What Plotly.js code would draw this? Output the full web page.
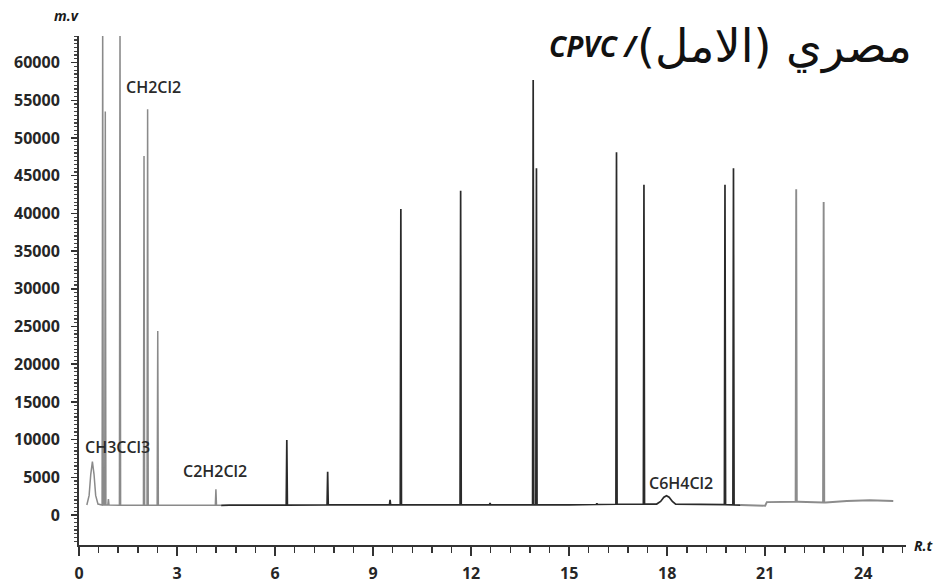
<!DOCTYPE html>
<html><head><meta charset="utf-8">
<script src="https://cdn.plot.ly/plotly-3.0.1.min.js"></script>
<style>html,body{margin:0;padding:0;background:#fff;} #chart{width:941px;height:587px;}</style>
</head><body><div id="chart"></div>
<script>
// ---- data ----
const baselineRT  = [0, 0.60, 1.50, 4.30, 4.60, 9.00, 12.00, 15.00, 17.00, 19.50, 20.40, 20.75, 21.00, 21.05, 22.00, 22.85, 23.50, 24.20, 24.92];
const baselineVal = [1330, 1330, 1280, 1280, 1300, 1350, 1350, 1350, 1450, 1400, 1300, 1200, 1230, 1700, 1750, 1650, 1850, 1950, 1850];

const spikeRT     = [0.725, 0.805, 0.90, 1.255, 1.99, 2.10, 2.41, 4.19, 6.36, 7.61, 9.52, 9.85, 11.68, 12.58, 13.90, 14.00, 15.85, 16.45, 17.29, 19.77, 20.03, 21.95, 22.79];
const spikeHeight = [66000, 53500, 2100, 66000, 47600, 53800, 24400, 3400, 9950, 5740, 2000, 40600, 43000, 1600, 57700, 46000, 1550, 48100, 43800, 43800, 46000, 43200, 41500];

const ch3ccl3RT  = [0.24, 0.31, 0.36, 0.41, 0.46, 0.51, 0.58, 0.64];
const ch3ccl3Val = [1330, 2600, 5400, 7070, 5400, 2600, 1450, 1400];
const c6h4cl2RT  = [17.68, 17.80, 17.90, 17.98, 18.06, 18.16, 18.26];
const c6h4cl2Val = [1450, 1800, 2350, 2550, 2350, 1800, 1450];

const compoundNames = ['CH2Cl2', 'CH3CCl3', 'C2H2Cl2', 'C6H4Cl2'];
const xTickVals = [0, 3, 6, 9, 12, 15, 18, 21, 24];
const yTickVals = [0, 5000, 10000, 15000, 20000, 25000, 30000, 35000, 40000, 45000, 50000, 55000, 60000];

// ---- build the trace from the data ----
function baseAt(x) {
  for (let i = 0; i < baselineRT.length - 1; i++) {
    if (x >= baselineRT[i] && x <= baselineRT[i + 1]) {
      const t = (x - baselineRT[i]) / (baselineRT[i + 1] - baselineRT[i]);
      return baselineVal[i] + t * (baselineVal[i + 1] - baselineVal[i]);
    }
  }
  return baselineVal[baselineVal.length - 1];
}
const pts = [];
const busy = [];
const hw = 0.018;
spikeRT.forEach((r, i) => {
  pts.push([r - hw, baseAt(r - hw)], [r, spikeHeight[i]], [r + hw, baseAt(r + hw)]);
  busy.push([r - hw, r + hw]);
});
[[ch3ccl3RT, ch3ccl3Val], [c6h4cl2RT, c6h4cl2Val]].forEach(([xs, ys]) => {
  xs.forEach((x, i) => pts.push([x, ys[i]]));
  busy.push([xs[0], xs[xs.length - 1]]);
});
baselineRT.forEach((x, i) => {
  if (!busy.some(b => x >= b[0] && x <= b[1])) pts.push([x, baselineVal[i]]);
});
pts.sort((a, b) => a[0] - b[0]);

const segments = [
  {from: 0, to: 4.35, color: '#8a8a8a', width: 1.5},
  {from: 4.35, to: 20.25, color: '#2a2a2a', width: 1.7},
  {from: 20.25, to: 25, color: '#8c8c8c', width: 1.9}
];
const traces = segments.map(s => {
  const seg = pts.filter(p => p[0] > s.from && p[0] < s.to);
  if (s.from > 0) seg.unshift([s.from, baseAt(s.from)]);
  const last = Math.min(s.to, baselineRT[baselineRT.length - 1]);
  if (seg[seg.length - 1][0] < last) seg.push([last, baseAt(last)]);
  return {
    type: 'scatter', mode: 'lines',
    x: seg.map(p => p[0]), y: seg.map(p => p[1]),
    line: {color: s.color, width: s.width},
    hoverinfo: 'skip'
  };
});

// ---- layout ----
const L = 79, R = 906, T = 36, B = 545;
const px = v => (v - L) / (R - L);
const py = v => (B - v) / (B - T);
const tickFont = {family: 'Open Sans, DejaVu Sans, sans-serif', size: 16, color: '#262626', weight: 700};
const labFont = {family: 'Open Sans, DejaVu Sans, sans-serif', size: 16, color: '#2a2a2a', weight: 600};
const biFont = {family: 'Open Sans, DejaVu Sans, sans-serif', size: 14, color: '#1a1a1a', weight: 700, style: 'italic'};

const labelPos = [[1.377, 56760], [0.122, 9020], [3.12, 5840], [17.39, 4240]];

const annotations = compoundNames.map((n, i) => ({
  text: n, x: labelPos[i][0], y: labelPos[i][1], xref: 'x', yref: 'y',
  xanchor: 'left', yanchor: 'middle', showarrow: false, font: labFont
}));
annotations.push(
  {text: 'm.v', xref: 'paper', yref: 'paper', x: px(66), y: py(15), xanchor: 'center', yanchor: 'middle', showarrow: false, font: biFont},
  {text: 'R.t', xref: 'paper', yref: 'paper', x: px(912), y: py(545), xanchor: 'left', yanchor: 'middle', showarrow: false, font: biFont},
  {text: 'CPVC /', xref: 'paper', yref: 'paper', x: px(640), y: py(46), xanchor: 'right', yanchor: 'middle', showarrow: false,
   font: {family: 'Open Sans, DejaVu Sans, sans-serif', size: 28, color: '#111', weight: 700, style: 'italic'}},
  {text: '(الامل)\u200E مصري', xref: 'paper', yref: 'paper', x: px(914), y: py(47), xanchor: 'right', yanchor: 'middle', showarrow: false,
   font: {family: 'DejaVu Sans, sans-serif', size: 46, color: '#111', weight: 400}}
);

const layout = {
  width: 941, height: 587,
  margin: {l: L, r: 941 - R, t: T, b: 587 - B, pad: 0},
  paper_bgcolor: '#fff', plot_bgcolor: '#fff',
  showlegend: false,
  xaxis: {
    range: [0, 25.31], showgrid: false, zeroline: false,
    showline: true, linecolor: '#333', linewidth: 2,
    ticks: 'outside', ticklen: 9, tickwidth: 1.5, tickcolor: '#333',
    tickmode: 'array', tickvals: xTickVals, ticktext: xTickVals.map(String),
    tickfont: tickFont, ticklabelstandoff: 4,
    minor: {tickmode: 'linear', tick0: 0, dtick: 0.6, ticks: 'outside', ticklen: 6, tickwidth: 1.5, tickcolor: '#333', showgrid: false}
  },
  yaxis: {
    range: [-3980, 63530], showgrid: false, zeroline: false,
    showline: true, linecolor: '#333', linewidth: 2,
    ticks: 'outside', ticklen: 6, tickwidth: 1.5, tickcolor: '#333',
    tickmode: 'array', tickvals: yTickVals, ticktext: yTickVals.map(String),
    tickfont: tickFont, ticklabelstandoff: 8,
    minor: {tickmode: 'linear', tick0: 0, dtick: 500, ticks: 'outside', ticklen: 3, tickwidth: 1.2, tickcolor: '#444', showgrid: false}
  },
  annotations: annotations
};

Plotly.newPlot('chart', traces, layout, {displayModeBar: false, staticPlot: true});
</script>
</body></html>
